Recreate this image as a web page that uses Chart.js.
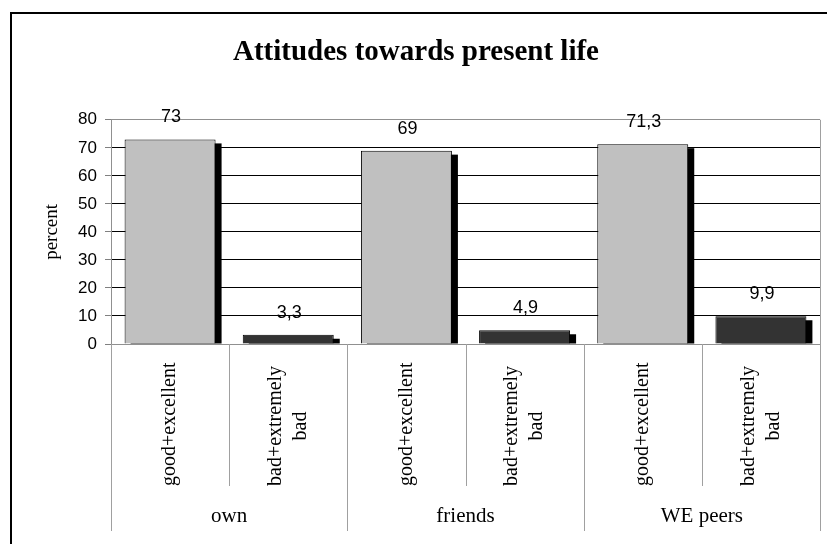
<!DOCTYPE html>
<html>
<head>
<meta charset="utf-8">
<script src="https://cdn.jsdelivr.net/npm/chart.js@4.4.1/dist/chart.umd.min.js"></script>
<style>
  body { margin: 0; background: #fff; }
  #wrap { width: 827px; height: 544px; }
</style>
</head>
<body>
<div id="wrap"><canvas id="chart"></canvas></div>
<script>
const groups = ["own", "friends", "WE peers"];
const answers = [["good+excellent"], ["bad+extremely", "bad"]];
const percent = [73, 3.3, 69, 4.9, 71.3, 9.9];
const yMin = 0, yMax = 80, yStep = 10;

// one label per bar: answer inside group
const labels = [];
groups.forEach(g => answers.forEach(a => labels.push(a)));

const serif = '"Liberation Serif", "Times New Roman", serif';
const sans = '"Liberation Sans", Arial, sans-serif';

const frame = {
  id: 'frame',
  beforeDraw(chart) {
    const ctx = chart.ctx;
    ctx.save();
    ctx.fillStyle = '#fff';
    ctx.fillRect(0, 0, chart.width, chart.height);
    ctx.strokeStyle = '#000';
    ctx.lineWidth = 2;
    ctx.strokeRect(11, 13, chart.width + 20, chart.height + 20);
    ctx.restore();
  }
};

// black drop shadow right/below each bar
const shadows = {
  id: 'shadows',
  beforeDatasetsDraw(chart) {
    const { ctx, chartArea } = chart;
    ctx.save();
    ctx.beginPath();
    ctx.rect(chartArea.left, chartArea.top, chartArea.width, chartArea.height);
    ctx.clip();
    ctx.fillStyle = '#000';
    chart.getDatasetMeta(0).data.forEach(bar => {
      const { x, y, base, width } = bar.getProps(['x', 'y', 'base', 'width'], true);
      ctx.fillRect(x - width / 2 + 6, y + 4, width, base - y - 4);
    });
    ctx.restore();
  },
  afterDatasetsDraw(chart) {
    const ctx = chart.ctx;
    ctx.save();
    ctx.fillStyle = '#000';
    ctx.font = '18px ' + sans;
    ctx.textAlign = 'center';
    ctx.textBaseline = 'middle';
    chart.getDatasetMeta(0).data.forEach((bar, i) => {
      ctx.fillText(String(percent[i]).replace('.', ','), bar.x + 1, bar.y - 22);
    });
    ctx.restore();
  }
};

// two level category axis drawn under the plot
const categories = {
  id: 'categories',
  afterDraw(chart) {
    const { ctx, chartArea } = chart;
    const xs = chart.scales.x;
    const step = xs.getPixelForValue(1) - xs.getPixelForValue(0);
    const top = chartArea.bottom;
    ctx.save();
    ctx.strokeStyle = '#a0a0a0';
    ctx.lineWidth = 1;
    ctx.beginPath();
    ctx.moveTo(Math.round(chartArea.right) + 0.5, chartArea.top);
    ctx.lineTo(Math.round(chartArea.right) + 0.5, top);
    for (let i = 0; i <= labels.length; i++) {
      const x = Math.round(xs.getPixelForValue(0) - step / 2 + i * step) + 0.5;
      const outer = i % answers.length === 0;
      ctx.moveTo(x, top);
      ctx.lineTo(x, outer ? 531 : 486);
    }
    ctx.stroke();

    ctx.fillStyle = '#000';
    ctx.font = '20px ' + serif;
    ctx.textAlign = 'center';
    ctx.textBaseline = 'middle';
    labels.forEach((lines, i) => {
      const cx = xs.getPixelForValue(i);
      ctx.save();
      ctx.translate(cx, 486);
      ctx.rotate(-Math.PI / 2);
      const len = Math.max(...lines.map(l => ctx.measureText(l).width));
      lines.forEach((l, j) => ctx.fillText(l, len / 2, (j - (lines.length - 1) / 2) * 25));
      ctx.restore();
    });

    ctx.font = '21px ' + serif;
    groups.forEach((g, k) => {
      const a = xs.getPixelForValue(k * answers.length);
      const b = xs.getPixelForValue((k + 1) * answers.length - 1);
      ctx.fillText(g, (a + b) / 2, 516);
    });
    ctx.restore();
  }
};

new Chart(document.getElementById('chart'), {
  type: 'bar',
  data: {
    labels: labels,
    datasets: [{
      data: percent,
      backgroundColor: percent.map((v, i) => i % 2 === 0 ? '#c0c0c0' : '#333333'),
      borderColor: '#000',
      borderWidth: 1,
      barPercentage: 0.77,
      categoryPercentage: 1
    }]
  },
  options: {
    responsive: true,
    maintainAspectRatio: false,
    animation: false,
    layout: { padding: { left: 12, right: 7, top: 0, bottom: 0 } },
    plugins: {
      legend: { display: false },
      tooltip: { enabled: false },
      title: {
        display: true,
        text: 'Attitudes towards present life',
        color: '#000',
        font: { family: serif, size: 29, weight: 'bold' },
        padding: { top: 35, bottom: 50 }
      }
    },
    scales: {
      x: {
        ticks: { display: false },
        grid: { display: false },
        border: { display: false },
        afterFit: s => { s.height = 200; }
      },
      y: {
        min: yMin,
        max: yMax,
        ticks: { stepSize: yStep, color: '#000', font: { family: sans, size: 17 }, padding: 8 },
        grid: {
          color: c => (c.tick && (c.tick.value === yMin || c.tick.value === yMax)) ? '#909090' : '#000',
          tickLength: 6,
          tickColor: '#808080'
        },
        border: { color: '#909090' },
        title: {
          display: true,
          text: 'percent',
          color: '#000',
          font: { family: serif, size: 19 },
          padding: { top: 29, bottom: 0 }
        },
        afterFit: s => { s.width = 99; }
      }
    }
  },
  plugins: [frame, shadows, categories]
});
</script>
</body>
</html>
